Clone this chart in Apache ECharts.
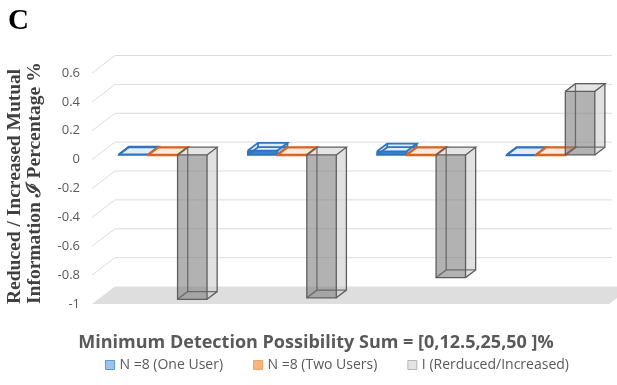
<!DOCTYPE html>
<html>
<head>
<meta charset="utf-8">
<script src="https://cdn.jsdelivr.net/npm/echarts@6/dist/echarts.min.js"></script>
<style>
  html, body { margin: 0; padding: 0; background: #fff; }
  #chart { width: 617px; height: 385px; }
</style>
</head>
<body>
<div id="chart"></div>
<script>
// Categories: minimum detection possibility sum (%)
const categories = ['0', '12.5', '25', '50'];
// Series values
const oneUser = [0.003, 0.03, 0.025, -0.002];
const twoUsers = [0.001, 0.001, 0.001, 0.001];
const infoChange = [-1.0, -0.99, -0.85, 0.44];
// Value-axis ticks
const yTicks = [-1, -0.8, -0.6, -0.4, -0.2, 0, 0.2, 0.4, 0.6];

// Oblique depth of the 3D box (full depth vector) and where the bars sit in it
const DX = 23, DY = -17.5;
const F0 = 0.27, F1 = 0.71;
const BAR_FRAC = 0.228;

function line(pts, stroke, width, opacity) {
  return { type: 'polyline', shape: { points: pts },
    style: { stroke: stroke, lineWidth: width, fill: null, opacity: opacity == null ? 1 : opacity },
    silent: true };
}

function boxRenderer(look) {
  return function (params, api) {
    const cat = api.value(0), v = api.value(1);
    const base = api.coord([cat, 0]);
    const end = api.coord([cat, v]);
    const band = api.size([1, 0])[0];
    const bw = band * BAR_FRAC;
    const xa = base[0] - 1.5 * bw + look.slot * bw + F0 * DX;
    const xb = xa + bw;
    const yTop = Math.min(base[1], end[1]) + F0 * DY;
    let yBot = Math.max(base[1], end[1]) + F0 * DY;
    if (yBot - yTop < 0.5) yBot = yTop + 0.5;
    const bx = (F1 - F0) * DX, by = (F1 - F0) * DY;
    const e = look.edge, w = look.width;
    return {
      type: 'group',
      children: [
        { type: 'polygon', shape: { points: [[xb, yTop], [xb + bx, yTop + by], [xb + bx, yBot + by], [xb, yBot]] },
          style: { fill: look.side } },
        { type: 'polygon', shape: { points: [[xa, yTop], [xb, yTop], [xb + bx, yTop + by], [xa + bx, yTop + by]] },
          style: { fill: look.top } },
        { type: 'rect', shape: { x: xa, y: yTop, width: bw, height: yBot - yTop },
          style: { fill: look.front } },
        // edges hidden behind the front face
        line([[xa + bx, yTop + by], [xa + bx, yBot + by], [xb + bx, yBot + by]], e, w, look.hidden),
        line([[xa, yBot], [xa + bx, yBot + by]], e, w, look.hidden),
        // visible edges
        line([[xa, yTop], [xb, yTop], [xb, yBot], [xa, yBot], [xa, yTop]], e, w),
        line([[xa, yTop], [xa + bx, yTop + by], [xb + bx, yTop + by], [xb, yTop]], e, w),
        line([[xb + bx, yTop + by], [xb + bx, yBot + by], [xb, yBot]], e, w)
      ]
    };
  };
}

const looks = {
  one: { slot: 0, front: '#3a7fc4', top: 'rgba(225,236,248,0.95)', side: '#9dc3e6', edge: '#2e74c0', width: 1.8, hidden: 1 },
  two: { slot: 1, front: '#d0651f', top: 'rgba(252,233,220,0.95)', side: '#f4b183', edge: '#dc6420', width: 1.8, hidden: 1 },
  info: { slot: 2, front: 'rgba(130,130,130,0.62)', top: 'rgba(205,205,205,0.55)', side: 'rgba(205,205,205,0.6)', edge: '#5e5e5e', width: 1.3, hidden: 0.85 }
};

const gridData = yTicks.map(function (t) { return [0, t]; });

const chart = echarts.init(document.getElementById('chart'), null, { renderer: 'canvas' });
chart.setOption({
  animation: false,
  backgroundColor: '#ffffff',
  grid: { left: 92, right: 8, top: 73, bottom: 81 },
  xAxis: { type: 'category', data: categories, show: false },
  yAxis: {
    type: 'value', min: -1, max: 0.6, interval: 0.2,
    axisLine: { show: false }, axisTick: { show: false }, splitLine: { show: false },
    axisLabel: { color: '#595959', fontSize: 13, fontFamily: 'Open Sans', margin: 12 }
  },
  legend: {
    left: 100, top: 353, itemWidth: 9, itemHeight: 9, itemGap: 30,
    icon: 'rect',
    textStyle: { color: '#595959', fontSize: 14, fontFamily: 'Open Sans' },
    data: [
      { name: 'N =8 (One User)', itemStyle: { color: '#9dc3e6', borderColor: '#5b9bd5', borderWidth: 1 } },
      { name: 'N =8 (Two Users)', itemStyle: { color: '#f8b57c', borderColor: '#f4a460', borderWidth: 1 } },
      { name: 'I (Rerduced/Increased)', itemStyle: { color: '#e4e4e4', borderColor: '#b5b5b5', borderWidth: 1 } }
    ]
  },
  graphic: [
    { type: 'text', left: 8, top: 7, style: { text: 'C', font: 'bold 29px "Liberation Serif"', fill: '#000' } },
    { type: 'text', x: 25, y: 304, rotation: Math.PI / 2,
      style: { text: 'Reduced / Increased Mutual\nInformation \u2110 Percentage %', font: 'bold 19.5px "Liberation Serif"',
        fill: '#404040', align: 'left', verticalAlign: 'middle', lineHeight: 20 } },
    { type: 'text', x: 316, y: 343,
      style: { text: 'Minimum Detection Possibility Sum = [0,12.5,25,50 ]%', font: 'bold 18px "Open Sans"',
        fill: '#595959', align: 'center', verticalAlign: 'middle' } }
  ],
  series: [
    {
      type: 'custom', name: 'walls', silent: true, clip: false, z: 1,
      data: gridData,
      renderItem: function (params, api) {
        const v = api.value(1);
        const p = api.coord([0, v]);
        const band = api.size([1, 0])[0];
        const x0 = p[0] - band / 2;
        const x1 = x0 + band * categories.length;
        if (v === yTicks[0]) {
          return { type: 'polygon', shape: { points: [[x0, p[1]], [x1, p[1]], [x1 + DX, p[1] + DY], [x0 + DX, p[1] + DY]] },
            style: { fill: '#dedede' } };
        }
        return line([[x0, p[1]], [x0 + DX, p[1] + DY], [x1 + 3, p[1] + DY]], '#dcdcdc', 1);
      }
    },
    {
      type: 'custom', name: 'N =8 (One User)', clip: false, z: 3,
      itemStyle: { color: '#9dc3e6' },
      data: oneUser.map(function (v, i) { return [i, v]; }),
      renderItem: boxRenderer(looks.one)
    },
    {
      type: 'custom', name: 'N =8 (Two Users)', clip: false, z: 3,
      itemStyle: { color: '#f8b57c' },
      data: twoUsers.map(function (v, i) { return [i, v]; }),
      renderItem: boxRenderer(looks.two)
    },
    {
      type: 'custom', name: 'I (Rerduced/Increased)', clip: false, z: 3,
      itemStyle: { color: '#e4e4e4' },
      data: infoChange.map(function (v, i) { return [i, v]; }),
      renderItem: boxRenderer(looks.info)
    }
  ]
});
</script>
</body>
</html>
